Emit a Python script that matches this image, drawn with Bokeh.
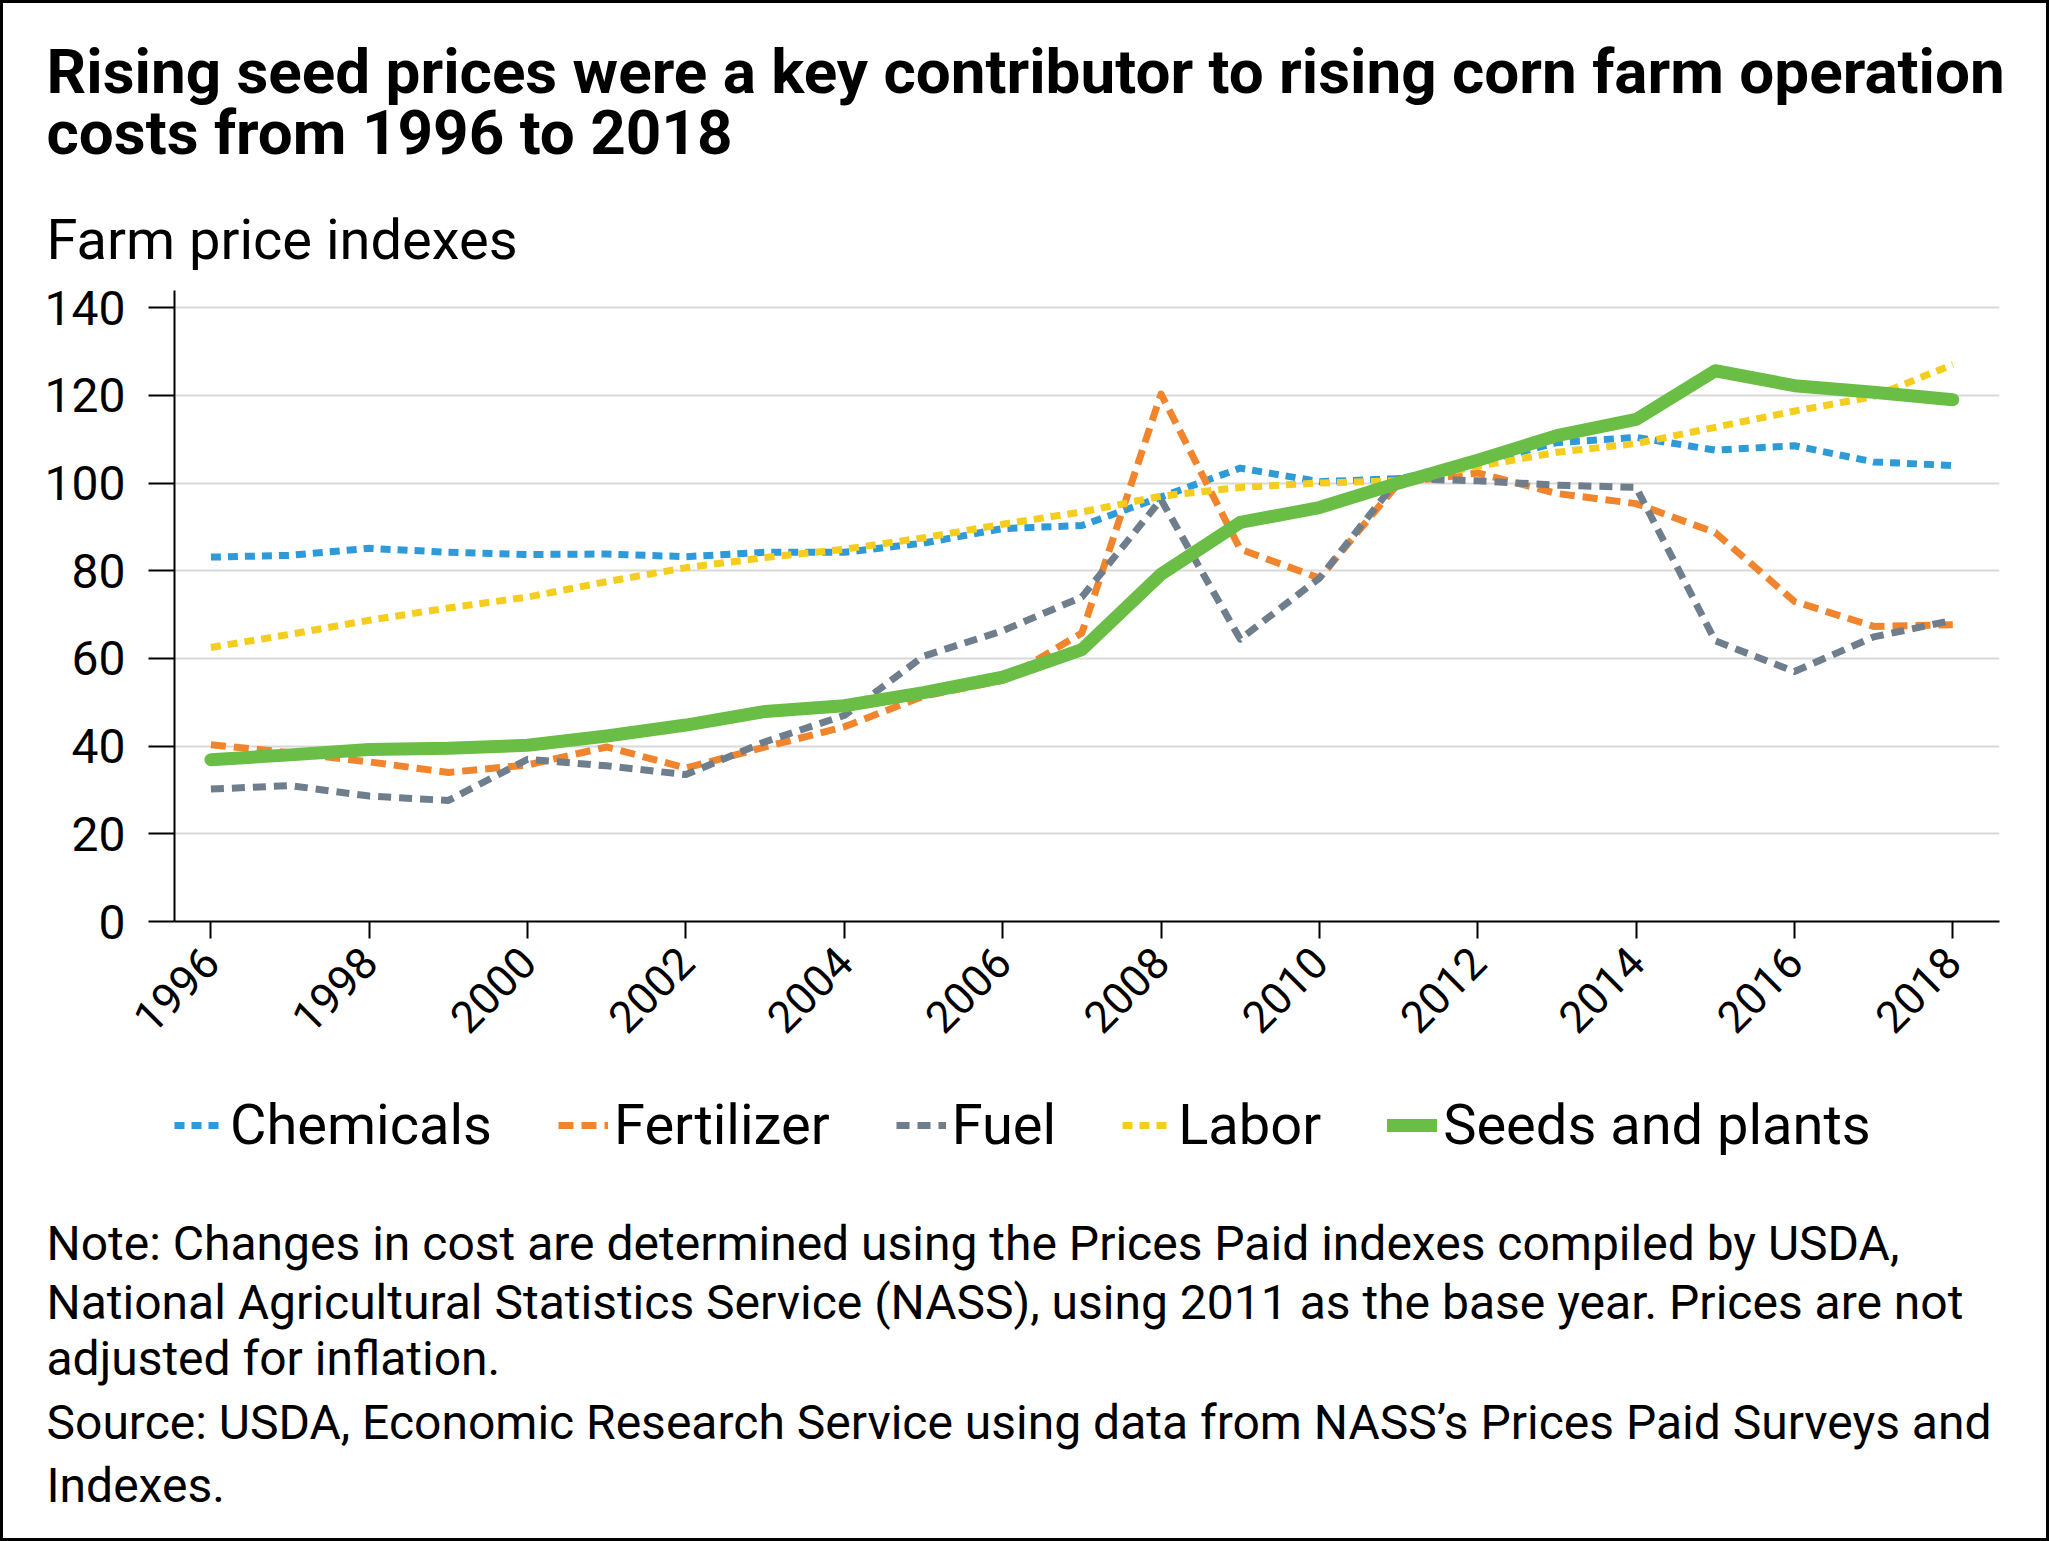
import math
from bokeh.plotting import figure
from bokeh.layouts import column
from bokeh.models import Label, Legend, LegendItem, FixedTicker, Range1d
from bokeh.embed import file_html
from bokeh.resources import INLINE

# ---------------- data ----------------
years = list(range(1996, 2019))
chemicals = [83.1, 83.5, 85.1, 84.2, 83.7, 83.8, 83.2, 84.2, 84.2, 86.3, 89.6, 90.3,
             96.8, 103.4, 100.3, 101.0, 104.5, 109.2, 110.4, 107.5, 108.5, 104.8, 104.0]
fertilizer = [40.3, 38.5, 36.4, 34.0, 35.7, 39.8, 35.0, 39.8, 44.4, 51.4, 55.0, 65.8,
              120.3, 84.9, 78.3, 100.0, 102.3, 97.6, 95.3, 88.7, 73.0, 67.3, 67.7]
fuel = [30.2, 31.0, 28.6, 27.6, 37.0, 35.5, 33.5, 41.0, 47.0, 60.5, 66.3, 74.0,
        96.2, 64.4, 78.3, 101.0, 100.5, 99.5, 99.0, 64.0, 57.0, 64.9, 68.7]
labor = [62.5, 65.5, 68.7, 71.5, 74.0, 77.5, 80.7, 83.0, 84.9, 87.5, 90.6, 93.4,
         97.0, 99.0, 100.0, 100.5, 103.8, 107.0, 109.0, 112.7, 116.4, 119.7, 127.0]
seeds = [36.9, 38.0, 39.2, 39.5, 40.2, 42.3, 44.8, 47.9, 49.2, 52.2, 55.7, 62.0,
         79.2, 91.0, 94.4, 100.0, 105.2, 110.8, 114.5, 125.6, 122.2, 120.7, 119.0]
series_names = ["Chemicals", "Fertilizer", "Fuel", "Labor", "Seeds and plants"]
x_ticks = list(range(1996, 2019, 2))
y_ticks = list(range(0, 141, 20))

title_lines = ["Rising seed prices were a key contributor to rising corn farm operation",
               "costs from 1996 to 2018"]
subtitle = "Farm price indexes"
note_lines = ["Note: Changes in cost are determined using the Prices Paid indexes compiled by USDA,",
              "National Agricultural Statistics Service (NASS), using 2011 as the base year. Prices are not",
              "adjusted for inflation."]
source_lines = ["Source: USDA, Economic Research Service using data from NASS\u2019s Prices Paid Surveys and",
                "Indexes."]

# ---------------- styles ----------------
FONT = "Roboto"
colors = ["#2E9AD8", "#F0852D", "#6F7E8C", "#F5CD1F", "#6ABD45"]
dashes = ["10 7", "15 8", "13 8", "10 7", "solid"]
widths = [7, 7, 7, 7, 13]

BW = 3                       # outer border width
W, H = 2049 - 2 * BW, 1541 - 2 * BW
H_TOP = 272
H_MAIN = 796
H_BOT = H - H_TOP - H_MAIN
L, R = 174 - BW, 1999 - BW   # frame left/right inside the children
MT, MB = 15, 150
X0, X1 = 1995.54, 2018.59
Y0, Y1 = 0.0, 143.9


def text_fig(h):
    f = figure(width=W, height=h, x_range=Range1d(0, W), y_range=Range1d(h, 0),
               x_axis_type=None, y_axis_type=None, title=None,
               output_backend="svg", toolbar_location=None,
               min_border_left=0, min_border_right=0,
               min_border_top=0, min_border_bottom=0)
    f.frame_align = False
    f.outline_line_color = None
    f.background_fill_color = "white"
    f.border_fill_color = "white"
    return f


def txt(fig, x, y, t, size, bold=False):
    fig.add_layout(Label(x=x, y=y, text=t, text_font=FONT,
                         text_font_style="bold" if bold else "normal",
                         text_font_size=size, text_baseline="alphabetic",
                         text_align="left", text_color="black"))


# ---------------- top: titles ----------------
top = text_fig(H_TOP)
txt(top, 46 - BW, 71 - BW, title_lines[0], "62px", True)
txt(top, 46 - BW, 131.5 - BW, title_lines[1], "62px", True)
txt(top, 46 - BW, 239 - BW, subtitle, "56px")

# ---------------- main chart ----------------
p = figure(width=W, height=H_MAIN, x_range=Range1d(X0, X1), y_range=Range1d(Y0, Y1),
           title=None, output_backend="svg", toolbar_location=None,
           min_border_left=L, min_border_right=W - R, min_border_top=MT, min_border_bottom=MB)
p.frame_align = False
p.outline_line_color = None
p.background_fill_color = "white"
p.border_fill_color = "white"

for ax in (p.xaxis[0], p.yaxis[0]):
    ax.axis_line_color = "black"
    ax.axis_line_width = 2
    ax.major_tick_line_color = "black"
    ax.major_tick_line_width = 2
    ax.major_tick_in = 0
    ax.minor_tick_line_color = None
    ax.major_label_text_font = FONT
    ax.major_label_text_color = "black"

p.xaxis.ticker = FixedTicker(ticks=x_ticks)
p.xaxis.major_tick_out = 17
p.xaxis.major_label_orientation = math.pi / 4
p.xaxis.major_label_standoff = 16
p.xaxis.major_label_text_font_size = "44px"
p.yaxis.ticker = FixedTicker(ticks=y_ticks)
p.yaxis.major_tick_out = 26
p.yaxis.major_label_standoff = 23
p.yaxis.major_label_text_font_size = "48px"

p.xgrid.visible = False
p.ygrid.ticker = FixedTicker(ticks=y_ticks)
p.ygrid.grid_line_color = "#d9d9d9"
p.ygrid.grid_line_width = 2

series = [chemicals, fertilizer, fuel, labor, seeds]
for vals, c, d, w in zip(series, colors, dashes, widths):
    p.line(years, vals, line_color=c, line_width=w, line_dash=d,
           line_cap="round" if d == "solid" else "butt", line_join="round")

# ---------------- bottom: legend + notes ----------------
bot = text_fig(H_BOT)
bot.extra_x_ranges = {"offscreen": Range1d(0, 1)}
items = []
for name, vals, c, d, w in zip(series_names, series, colors, dashes, widths):
    # same series, mapped onto an off-screen range: only its legend glyph shows
    r = bot.line(years, vals, x_range_name="offscreen", line_color=c, line_width=w,
                 line_dash=d, line_cap="round" if d == "solid" else "butt")
    items.append(LegendItem(label=name, renderers=[r]))
base = BW + H_TOP + H_MAIN
legend = Legend(items=items, location=(174 - BW, H_BOT - (1124 - base) - 34),
                orientation="horizontal",
                label_text_font=FONT, label_text_font_size="56px", label_text_color="black",
                glyph_width=50, glyph_height=20, label_standoff=6, spacing=66,
                padding=0, margin=0, background_fill_alpha=0, border_line_color=None)
bot.add_layout(legend, "center")

note_y = [1243, 1301.5, 1358]
for y, t in zip(note_y, note_lines):
    txt(bot, 46 - BW, y - base, t, "48px")
src_y = [1422, 1485]
for y, t in zip(src_y, source_lines):
    txt(bot, 46 - BW, y - base, t, "48px")

layout = column(top, p, bot, spacing=0,
                styles={"border": "%dpx solid black" % BW, "background-color": "white"})

open("out.html", "w").write(file_html(layout, INLINE))
